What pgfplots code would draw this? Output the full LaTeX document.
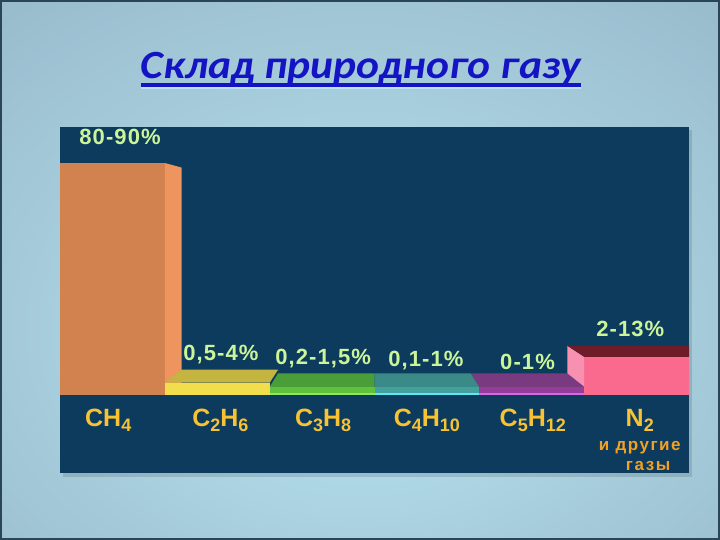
\documentclass[border=0pt]{standalone}
\usepackage{pgfplots}
\pgfplotsset{compat=1.18}
\usepackage{fontspec}
\setmainfont{Liberation Sans}
\newfontfamily\titlefont{Carlito}
\newfontfamily\valfont{Liberation Sans}[LetterSpace=5]
\newfontfamily\gasfont{Liberation Sans}[LetterSpace=9]

\definecolor{bgin}{HTML}{B2DCEA}
\definecolor{bgmid}{HTML}{93B4C6}
\definecolor{bgout}{HTML}{6C879B}
\definecolor{border}{HTML}{2A4458}
\definecolor{panel}{HTML}{0C3B5D}
\definecolor{titleblue}{HTML}{1414C4}
\definecolor{valcol}{HTML}{CCF59A}
\definecolor{catcol}{HTML}{F8C232}
\definecolor{gascol}{HTML}{F5A020}
\definecolor{ch4front}{HTML}{D2824F}
\definecolor{ch4side}{HTML}{EE945E}
\definecolor{c2front}{HTML}{F2DE4C}
\definecolor{c2top}{HTML}{C4B440}
\definecolor{c3front}{HTML}{5EC23E}
\definecolor{c3top}{HTML}{4A9E3A}
\definecolor{c3line}{HTML}{8CEA5A}
\definecolor{c4front}{HTML}{43A09C}
\definecolor{c4top}{HTML}{3A8A88}
\definecolor{c4line}{HTML}{5CE8F6}
\definecolor{c5front}{HTML}{933C98}
\definecolor{c5top}{HTML}{7A3A80}
\definecolor{c5line}{HTML}{D468E6}
\definecolor{n2front}{HTML}{FA6A8E}
\definecolor{n2side}{HTML}{F890B2}
\definecolor{n2top}{HTML}{6E1C2A}

\pgfdeclareradialshading{slidebg}{\pgfpoint{0bp}{-8bp}}{color(0bp)=(bgin); color(8bp)=(bgin); color(45bp)=(bgmid); color(72bp)=(bgout)}

\newcommand{\sub}[1]{\raisebox{-5pt}{\fontsize{18}{18}\selectfont #1}}

\begin{document}
\begin{tikzpicture}
\useasboundingbox (0,0) rectangle (720pt,540pt);
\shade[shading=slidebg] (0,0) rectangle (720pt,540pt);
\draw[line width=2pt, color=border] (1pt,1pt) rectangle (719pt,539pt);
\fill[black, opacity=0.12] (63pt,63pt) rectangle (692pt,410pt);

\begin{axis}[
  at={(60pt,67pt)}, anchor=south west, scale only axis,
  width=629pt, height=346pt,
  xmin=0, xmax=6, ymin=-28.58, ymax=98.2,
  axis line style={draw=none}, xtick=\empty, ytick=\empty,
  axis background/.style={fill=panel},
]
% CH4
\addplot[ybar, bar width=1, bar shift=0pt, fill=ch4front, draw=none] coordinates {(0.5,85)};
\addplot[fill=ch4side, draw=none] coordinates {(1,0) (1,85) (1.16,83.33) (1.16,0)} -- cycle;
% N2
\addplot[ybar, bar width=1, bar shift=0pt, fill=n2front, draw=none] coordinates {(5.5,14)};
\addplot[fill=n2side, draw=none] coordinates {(5,0) (5,14) (4.84,18.01) (4.84,0)} -- cycle;
\addplot[fill=n2top, draw=none] coordinates {(5,14) (6.2,14) (6.2,18.01) (4.84,18.01)} -- cycle;
% C2H6
\addplot[ybar, bar width=1, bar shift=0pt, fill=c2front, draw=none] coordinates {(1.5,4.5)};
\addplot[fill=c2top, draw=none] coordinates {(1,4.5) (2,4.5) (2.08,9.27) (1.16,9.27)} -- cycle;
% C3H8
\addplot[ybar, bar width=1, bar shift=0pt, fill=c3front, draw=none] coordinates {(2.5,3)};
\addplot[fill=c3top, draw=none] coordinates {(2,3) (3,3) (3,7.89) (2.08,7.89)} -- cycle;
\addplot[c3line, line width=2.5pt] coordinates {(2,0.45) (3,0.45)};
% C4H10
\addplot[ybar, bar width=1, bar shift=0pt, fill=c4front, draw=none] coordinates {(3.5,3)};
\addplot[fill=c4top, draw=none] coordinates {(3,3) (4,3) (3.92,7.89) (3,7.89)} -- cycle;
\addplot[c4line, line width=2.5pt] coordinates {(3,0.45) (4,0.45)};
% C5H12
\addplot[ybar, bar width=1, bar shift=0pt, fill=c5front, draw=none] coordinates {(4.5,3)};
\addplot[fill=c5top, draw=none] coordinates {(4,3) (5,3) (4.84,7.89) (3.92,7.89)} -- cycle;
\addplot[c5line, line width=2.5pt] coordinates {(4,0.45) (5,0.45)};

% value labels
\begin{scope}[every node/.style={anchor=base, inner sep=0pt, text=valcol, font=\valfont\bfseries\fontsize{22}{22}\selectfont}]
\node at (axis cs:0.573,91.6) {80-90\%};
\node at (axis cs:1.535,12.5) {0,5-4\%};
\node at (axis cs:2.51,11.0) {0,2-1,5\%};
\node at (axis cs:3.49,10.4) {0,1-1\%};
\node at (axis cs:4.46,9.2) {0-1\%};
\node at (axis cs:5.44,21.6) {2-13\%};
\end{scope}
% category labels
\begin{scope}[every node/.style={anchor=base, inner sep=0pt, text=catcol, font=\bfseries\fontsize{25}{25}\selectfont}]
\node at (axis cs:0.46,-11.7) {CH\sub{4}};
\node at (axis cs:1.53,-11.7) {C\sub{2}H\sub{6}};
\node at (axis cs:2.51,-11.7) {C\sub{3}H\sub{8}};
\node at (axis cs:3.50,-11.7) {C\sub{4}H\sub{10}};
\node at (axis cs:4.51,-11.7) {C\sub{5}H\sub{12}};
\node at (axis cs:5.53,-11.7) {N\sub{2}};
\end{scope}
\node[anchor=base, inner sep=0pt, text=gascol, font=\gasfont\bfseries\fontsize{17}{17}\selectfont] at (axis cs:5.53,-20.2) {и другие};
\node[anchor=base, inner sep=0pt, text=gascol, font=\gasfont\bfseries\fontsize{17}{17}\selectfont] at (axis cs:5.61,-27.8) {газы};
\end{axis}

\node[anchor=base, inner sep=0pt, text=titleblue, font=\titlefont\bfseries\itshape\fontsize{40}{40}\selectfont] (T) at (361pt,461pt) {\scalebox{1.09}[1]{Склад природного газу}};
\draw[white!75!cyan, line width=2pt, opacity=0.8] ([yshift=-9.5pt]T.base west) -- ([yshift=-9.5pt]T.base east);
\draw[titleblue, line width=3.5pt] ([yshift=-6pt]T.base west) -- ([yshift=-6pt]T.base east);
\end{tikzpicture}
\end{document}
